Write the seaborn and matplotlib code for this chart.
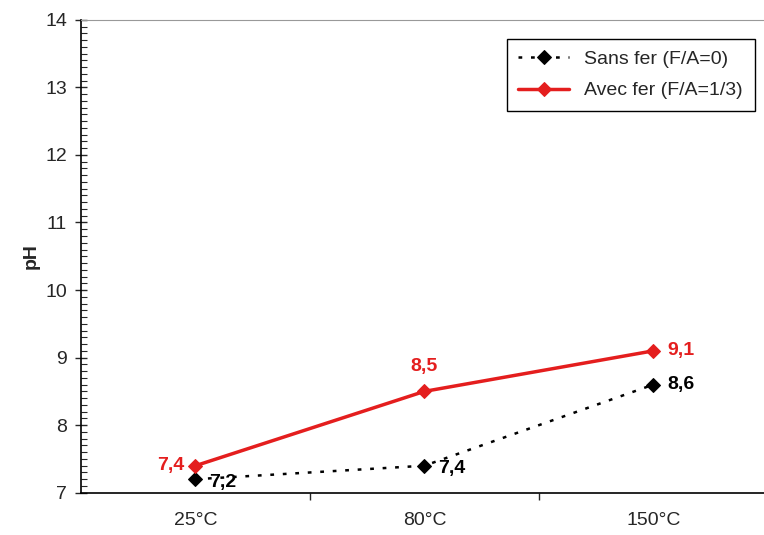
import matplotlib
matplotlib.use('Agg')
import matplotlib.pyplot as plt
from matplotlib.ticker import MultipleLocator, FixedLocator
import seaborn as sns
import pandas as pd

temperatures = ['25°C', '80°C', '150°C']
sans_fer = [7.2, 7.4, 8.6]
avec_fer = [7.4, 8.5, 9.1]
sans_fer_labels = ['7,2', '7,4', '8,6']
avec_fer_labels = ['7,4', '8,5', '9,1']

sns.set_style('white')
plt.rcParams['font.family'] = ['Liberation Sans', 'DejaVu Sans']

df = pd.DataFrame({'T': temperatures * 2,
                   'pH': sans_fer + avec_fer,
                   'serie': ['Sans fer (F/A=0)'] * 3 + ['Avec fer (F/A=1/3)'] * 3})

fig = plt.figure(figsize=(7.64, 5.35), dpi=100)
ax = fig.add_axes([0.106, 0.079, 0.899, 0.884])

sns.lineplot(data=df[df.serie == 'Sans fer (F/A=0)'], x='T', y='pH', ax=ax, sort=False,
             color='black', linestyle=(0, (1.5, 3.5)), linewidth=1.8, marker='D',
             markersize=7, markeredgecolor='black', label='Sans fer (F/A=0)')
sns.lineplot(data=df[df.serie == 'Avec fer (F/A=1/3)'], x='T', y='pH', ax=ax, sort=False,
             color='#e41e1e', linewidth=2.5, marker='D', markersize=7,
             markeredgecolor='#e41e1e', label='Avec fer (F/A=1/3)')

# data labels
fs = 14
offs_black = [(10, -2), (10, -2), (10, 0)]
for i, (v, t) in enumerate(zip(sans_fer, sans_fer_labels)):
    ax.annotate(t, (i, v), xytext=offs_black[i], textcoords='offset points',
                ha='left', va='center', fontsize=fs, fontweight='bold', color='black')
ax.annotate(avec_fer_labels[0], (0, avec_fer[0]), xytext=(-8, 0), textcoords='offset points',
            ha='right', va='center', fontsize=fs, fontweight='bold', color='#e41e1e')
ax.annotate(avec_fer_labels[1], (1, avec_fer[1]), xytext=(0, 12), textcoords='offset points',
            ha='center', va='bottom', fontsize=fs, fontweight='bold', color='#e41e1e')
ax.annotate(avec_fer_labels[2], (2, avec_fer[2]), xytext=(10, 0), textcoords='offset points',
            ha='left', va='center', fontsize=fs, fontweight='bold', color='#e41e1e')

ax.set_xlim(-0.5, 2.5)
ax.set_ylim(7, 14)
ax.yaxis.set_major_locator(MultipleLocator(1))
ax.yaxis.set_minor_locator(MultipleLocator(0.1))
ax.xaxis.set_minor_locator(FixedLocator([0.5, 1.5]))
ax.tick_params(axis='y', which='major', direction='inout', length=8, width=1,
               labelsize=fs, left=True, pad=6)
ax.tick_params(axis='y', which='minor', direction='in', length=4, width=0.8, left=True)
ax.tick_params(axis='x', which='major', length=0, labelsize=fs, pad=14)
ax.tick_params(axis='x', which='minor', direction='out', length=5, width=1, bottom=True)

ax.set_xlabel('')
ax.set_ylabel('pH', fontsize=fs, fontweight='bold', labelpad=4)

for s in ['left', 'bottom']:
    ax.spines[s].set_color('black')
    ax.spines[s].set_linewidth(1.2)
ax.spines['top'].set_color('#999999')
ax.spines['top'].set_linewidth(0.8)
ax.spines['right'].set_visible(False)

leg = ax.legend(loc='upper right', bbox_to_anchor=(0.995, 0.98), fontsize=fs,
                frameon=True, fancybox=False, edgecolor='black', framealpha=1,
                handlelength=2.6, borderpad=0.6, labelspacing=0.7)
leg.get_frame().set_linewidth(1.0)

plt.savefig('out.png', dpi=100)
plt.close()
